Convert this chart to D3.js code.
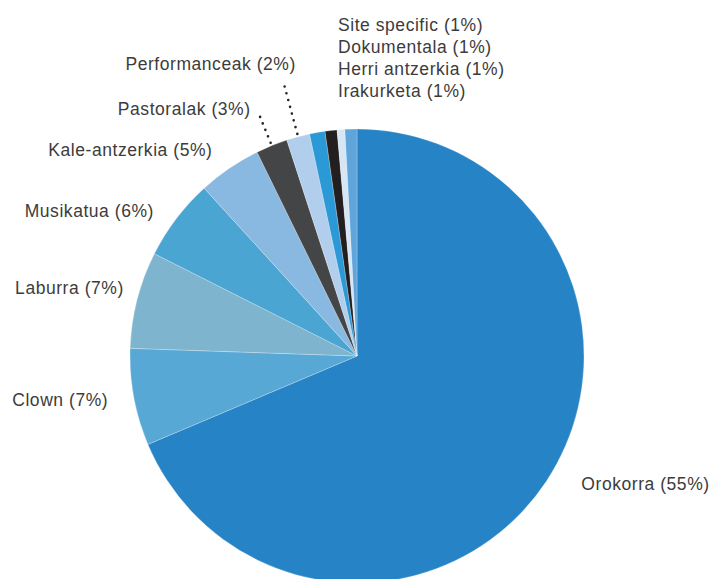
<html><head>
<script src="https://d3js.org/d3.v7.min.js"></script>
<style>
  body { margin: 0; background: #fff; }
  .lbl { font-family: "Liberation Sans", Arial, sans-serif; font-size: 17.5px; letter-spacing: 0.55px; fill: #3c3c3c; }
  .slice { stroke: #fff; stroke-width: 0.4; stroke-opacity: 0.6; }
  .leader { stroke: #222; stroke-width: 2.6; stroke-linecap: round; stroke-dasharray: 0 7; fill: none; }
</style>
</head><body>
<script>
// categories in clockwise order, starting at 12 o'clock
const categories = ["Orokorra", "Clown", "Laburra", "Musikatua", "Kale-antzerkia", "Pastoralak",
                    "Performanceak", "Site specific", "Dokumentala", "Herri antzerkia", "Irakurketa"]
// percentages as printed in the labels
const percents = [55, 7, 7, 6, 5, 3, 2, 1, 1, 1, 1]
// slice sizes as drawn (share of the circle)
const values = [68.6, 6.9, 6.9, 5.8, 4.5, 2.25, 1.65, 1.1, 0.85, 0.55, 0.85]
const colors = ["#2683c6", "#58a8d6", "#7fb4cf", "#4ba5d2", "#89b8e1", "#434547",
                "#b1cfec", "#2b99d6", "#231f20", "#d7e6f5", "#5fa5dc"]

const width = 711, height = 579
const cx = 357, cy = 356, r = 227

const svg = d3.select("body").append("svg")
  .attr("width", width).attr("height", height)

const data = categories.map((c, i) => ({name: c, pct: percents[i], value: values[i]}))

const pie = d3.pie().sort(null).value(d => d.value)
const arcs = pie(data)
const arc = d3.arc().innerRadius(0).outerRadius(r)

const g = svg.append("g").attr("transform", "translate(" + cx + "," + cy + ")")

g.selectAll("path.slice").data(arcs)
  .join("path")
  .attr("class", "slice")
  .attr("d", arc)
  .attr("fill", (d, i) => colors[i])

const mid = d => (d.startAngle + d.endAngle) / 2
const polar = (a, rad) => [rad * Math.sin(a), -rad * Math.cos(a)]
const labelText = d => d.data.name + " (" + d.data.pct + "%)"

// big slices: label straight out from the slice (small hand nudges)
const radial = arcs.slice(0, 5)
const nudge = [[16, -10], [-3, -1.5], [9, -6], [-4, 6.5], [-4, 1]]
g.selectAll("text.radial").data(radial)
  .join("text")
  .attr("class", "lbl radial")
  .each(function(d, i) {
    const p = polar(mid(d), 250)
    d3.select(this)
      .attr("x", p[0] + nudge[i][0])
      .attr("y", p[1] + nudge[i][1])
      .attr("dy", "0.35em")
      .attr("text-anchor", i == 0 ? "start" : "end")
  })
  .text(labelText)

// two thin slices with dotted leaders
const leaderLen = [28, 54]
const textShift = [[-9.5, -2], [12.5, -12]]
const led = arcs.slice(5, 7)
led.forEach((d, i) => {
  const a = mid(d)
  const p0 = polar(a, r + 3)
  const p1 = polar(a, r + 3 + leaderLen[i])
  g.append("line").attr("class", "leader")
    .attr("x1", p0[0]).attr("y1", p0[1])
    .attr("x2", p1[0]).attr("y2", p1[1])
  g.append("text").attr("class", "lbl")
    .attr("x", p1[0] + textShift[i][0])
    .attr("y", p1[1] + textShift[i][1])
    .attr("text-anchor", "end")
    .text(labelText(d))
})

// the four 1% slices share a stacked label
const stack = arcs.slice(7)
svg.selectAll("text.stack").data(stack)
  .join("text")
  .attr("class", "lbl stack")
  .attr("x", 338)
  .attr("y", (d, i) => 30.5 + i * 22.2)
  .text(labelText)
</script>
</body></html>
